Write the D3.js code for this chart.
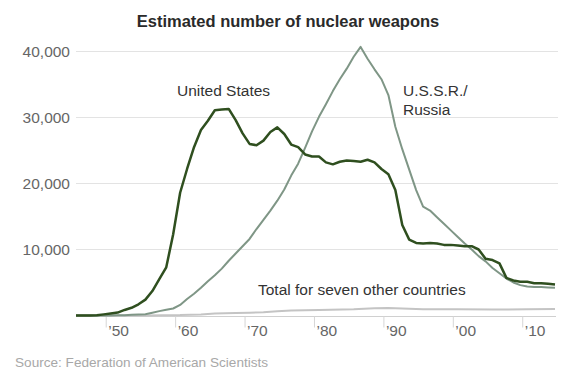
<!DOCTYPE html>
<html>
<head>
<meta charset="utf-8">
<script src="https://cdn.jsdelivr.net/npm/d3@7"></script>
<style>
  body { margin: 0; background: #fff; }
  svg text { font-family: "Liberation Sans", Arial, sans-serif; }
</style>
</head>
<body>
<div id="chart"></div>
<script>
// Years 1945-2014 for the two big stockpiles
const years = d3.range(1945, 2015);

const usValues = [
    0, 10, 15, 50, 170, 300, 440, 840, 1170, 1700,
    2400, 3700, 5500, 7300, 12300, 18600, 22200, 25500, 28100, 29500,
    31100, 31200, 31300, 29600, 27600, 26000, 25800, 26500, 27800, 28500,
    27500, 25900, 25500, 24400, 24100, 24100, 23200, 22900, 23300, 23500,
    23400, 23300, 23600, 23200, 22200, 21400, 19000, 13700, 11500, 11000,
    10900, 11000, 10900, 10700, 10700, 10600, 10500, 10500, 10000, 8600,
    8400, 7900, 5700, 5300, 5100, 5100, 4900, 4900, 4800, 4700
];

const russiaValues = [
    0, 0, 0, 0, 1, 5, 25, 50, 120, 150,
    200, 430, 660, 870, 1060, 1600, 2500, 3300, 4200, 5200,
    6100, 7100, 8300, 9400, 10500, 11600, 13100, 14500, 15900, 17400,
    19100, 21200, 23000, 25400, 27900, 30100, 32000, 34000, 35800, 37400,
    39200, 40700, 38900, 37300, 35800, 33400, 28600, 25200, 22100, 19000,
    16500, 15900, 14900, 13900, 12900, 11900, 10900, 10000, 9000, 8200,
    7200, 6400, 5600, 5000, 4600, 4400, 4300, 4300, 4250, 4200
];

// Sparse readings for the seven other countries combined
const otherYears = [1945, 1952, 1955, 1960, 1963, 1965, 1968, 1970, 1972, 1974, 1976, 1978, 1980, 1985, 1988, 1990, 1992, 1995, 2000, 2005, 2010, 2014];
const otherValues = [0, 0, 15, 60, 160, 300, 360, 420, 500, 650, 750, 800, 850, 950, 1100, 1150, 1050, 950, 950, 900, 950, 1000];

const yTicks = [10000, 20000, 30000, 40000];
const xTicks = [1950, 1960, 1970, 1980, 1990, 2000, 2010];

const colors = {
    us: '#2f4f1f',
    russia: '#7f9686',
    other: '#c4c4c4'
};

const width = 576, height = 377;

const svg = d3.select('#chart')
    .append('svg')
    .attr('width', width)
    .attr('height', height);

const x = d3.scaleLinear().domain([1945, 2014]).range([76, 555]);
const y = d3.scaleLinear().domain([0, 40000]).range([315.5, 51.5]);

// Title
svg.append('text')
    .attr('x', 288)
    .attr('y', 27)
    .attr('text-anchor', 'middle')
    .style('font-size', '16.5px')
    .style('font-weight', 'bold')
    .attr('fill', '#2a2a2a')
    .text('Estimated number of nuclear weapons');

// Gridlines + y labels
const grid = svg.append('g');
grid.selectAll('line')
    .data(yTicks)
    .enter().append('line')
    .attr('x1', 76)
    .attr('x2', 558)
    .attr('y1', d => y(d))
    .attr('y2', d => y(d))
    .attr('stroke', '#e3e3e3')
    .attr('stroke-width', 1);

grid.selectAll('text')
    .data(yTicks)
    .enter().append('text')
    .attr('x', 70)
    .attr('y', d => y(d) + 5)
    .attr('text-anchor', 'end')
    .style('font-size', '15.5px')
    .attr('fill', '#666')
    .text(d => d3.format(',')(d));

// Baseline
svg.append('line')
    .attr('x1', 76)
    .attr('x2', 556)
    .attr('y1', y(0) + 1)
    .attr('y2', y(0) + 1)
    .attr('stroke', '#d0d0d0')
    .attr('stroke-width', 1);

// X axis: tick line sits a bit left of the year, label to its right
const xAxis = svg.append('g')
    .attr('transform', `translate(-5, ${y(0) + 1})`)
    .call(d3.axisBottom(x).tickValues(xTicks).tickSize(11).tickFormat(d => '\u2019' + String(d).slice(2)));

xAxis.select('.domain').remove();
xAxis.selectAll('.tick line')
    .attr('stroke', '#d6d6d6');
xAxis.selectAll('.tick text')
    .attr('x', 2)
    .attr('y', 8)
    .attr('text-anchor', 'start')
    .style('font-size', '15.5px')
    .style('font-family', '"Liberation Sans", Arial, sans-serif')
    .attr('fill', '#666');

// Lines
const line = d3.line()
    .x(d => x(d.year))
    .y(d => y(d.value));

const otherData = otherYears.map((yr, i) => ({ year: yr, value: otherValues[i] }));
const russiaData = years.map((yr, i) => ({ year: yr, value: russiaValues[i] }));
const usData = years.map((yr, i) => ({ year: yr, value: usValues[i] }));

svg.append('path')
    .datum(otherData)
    .attr('fill', 'none')
    .attr('stroke', colors.other)
    .attr('stroke-width', 2)
    .attr('d', line);

svg.append('path')
    .datum(russiaData)
    .attr('fill', 'none')
    .attr('stroke', colors.russia)
    .attr('stroke-width', 2)
    .attr('stroke-linejoin', 'round')
    .attr('d', line);

svg.append('path')
    .datum(usData)
    .attr('fill', 'none')
    .attr('stroke', colors.us)
    .attr('stroke-width', 2.5)
    .attr('stroke-linejoin', 'round')
    .attr('d', line);

// Series labels
const labels = svg.append('g')
    .style('font-size', '15.5px')
    .attr('fill', '#333');

labels.append('text')
    .attr('x', 177)
    .attr('y', 96)
    .text('United States');

labels.append('text')
    .attr('x', 403)
    .attr('y', 96)
    .text('U.S.S.R./');

labels.append('text')
    .attr('x', 403)
    .attr('y', 115)
    .text('Russia');

labels.append('text')
    .attr('x', 258)
    .attr('y', 295)
    .text('Total for seven other countries');

// Source
svg.append('text')
    .attr('x', 15)
    .attr('y', 367)
    .style('font-size', '13.6px')
    .attr('fill', '#a8a8a8')
    .text('Source: Federation of American Scientists');
</script>
</body>
</html>
